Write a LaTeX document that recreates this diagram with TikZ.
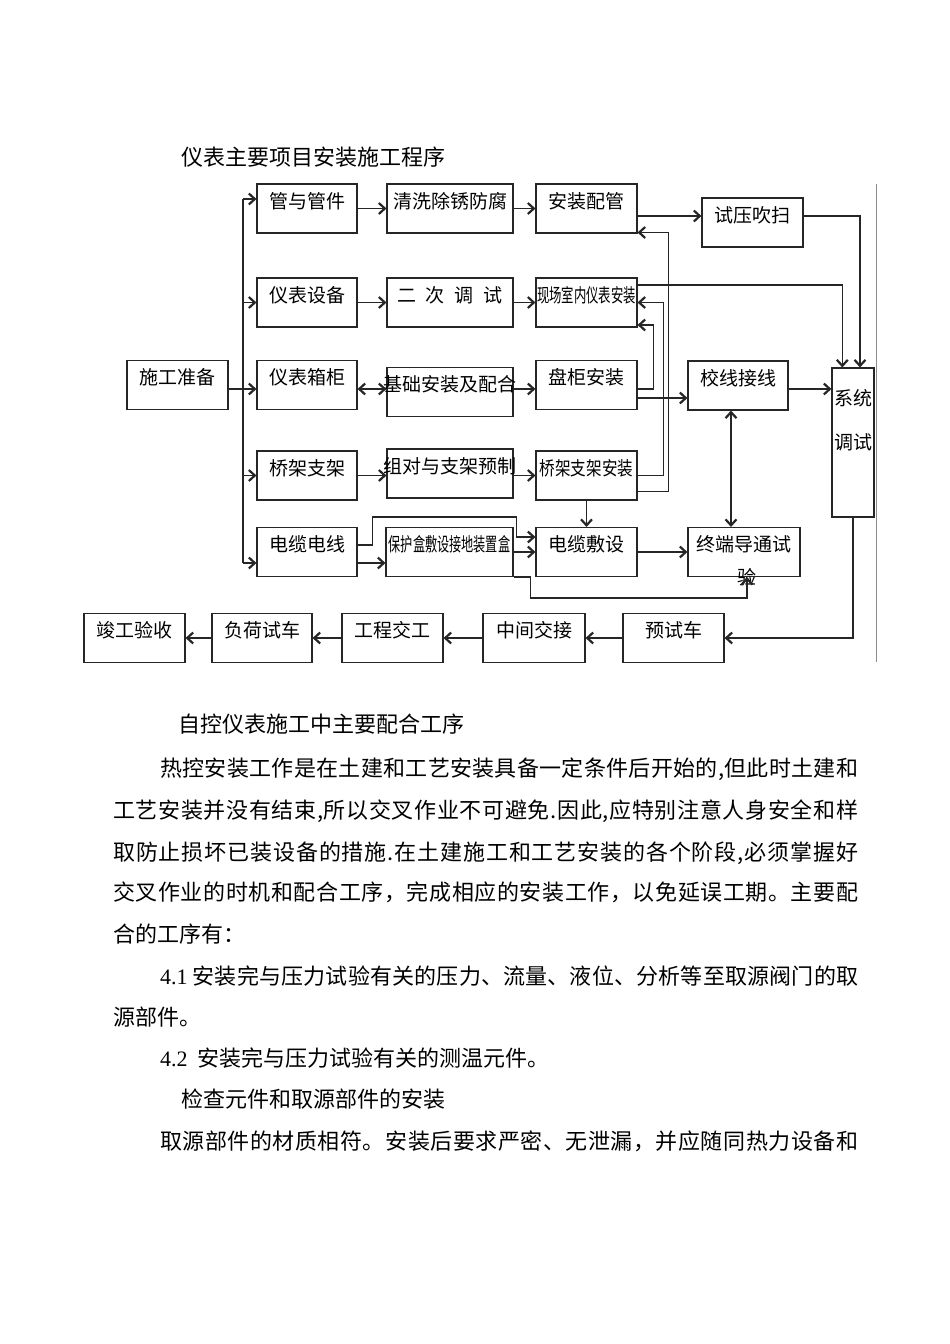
\documentclass[tikz,border=0pt]{standalone}
\usepackage{fontspec}
\setmainfont{Liberation Serif}
\newfontfamily\cjk{Noto Sans CJK SC}
\usetikzlibrary{arrows.meta}
% spread one line of text over a given width
\def\jlfirst#1{#1\jlrest}
\def\jlrest#1{\ifx\relax#1\else\hfil#1\expandafter\jlrest\fi}
\newcommand\jline[2]{\hbox to #1pt{\jlfirst#2\relax}}
\newcommand\wide[1]{\makebox[0pt]{#1}}
\begin{document}
\begin{tikzpicture}[x=1pt, y=-1pt, >={Straight Barb[length=6pt,width=11pt,line width=2.2pt]},
    box/.style={draw=black!85, line width=1.1pt, inner sep=0pt, minimum height=49pt,
                text height=24pt, text depth=25pt, font=\cjk\fontsize{19}{19}\selectfont},
    lbl/.style={inner sep=0pt, anchor=center, font=\cjk\fontsize{19}{19}\selectfont},
    arr/.style={->, line width=1.4pt, black!85},
    wire/.style={line width=1.4pt, black!85},
    txt/.style={inner sep=0pt, anchor=west, font=\cjk\fontsize{22}{22}\selectfont}]
\useasboundingbox (0,0) rectangle (950,1344);
\node[txt] (ttl) at (181,157) {仪表主要项目安装施工程序};
\node[box, minimum width=101pt] (sgzb) at (177.5,385) {施工准备}; % start
\node[box, minimum width=100pt] (gyg) at (307,208.5) {管与管件};
\node[box, minimum width=126pt] (qx) at (450,208.5) {清洗除锈防腐};
\node[box, minimum width=101pt] (azpg) at (586.5,208.5) {安装配管};
\node[box, minimum width=101pt] (sy) at (752.5,222.5) {试压吹扫};
\node[box, minimum width=100pt] (ybsb) at (307,302.5) {仪表设备};
\node[box, minimum width=126pt] (ecds) at (450,302.5) {二\hspace{10pt}次\hspace{10pt}调\hspace{10pt}试};
\node[box, minimum width=101pt] (xc) at (586.5,302.5) {\scalebox{0.65}[1]{现场室内仪表安装}};
\node[box, minimum width=100pt] (ybxg) at (307,385) {仪表箱柜};
\node[box, minimum width=126pt] (jc) at (450,392) {\wide{基础安装及配合}};
\node[box, minimum width=101pt] (pg) at (586.5,385) {盘柜安装};
\node[box, minimum width=100pt] (jx) at (738,385.5) {校线接线};
\node[box, minimum width=42pt, minimum height=149pt, text height=0pt, text depth=0pt,
      label={[lbl, yshift=-31pt]north:系统}, label={[lbl, yshift=-75pt]north:调试}] (xt) at (853,442.5) {};
\node[box, minimum width=100pt] (qj) at (307,475.5) {桥架支架};
\node[box, minimum width=126pt] (zd) at (450,473.5) {\wide{组对与支架预制}};
\node[box, minimum width=101pt] (qjaz) at (586.5,475.5) {\scalebox{0.82}[1]{桥架支架安装}};
\node[box, minimum width=100pt] (dl) at (307,552) {电缆电线};
\node[box, minimum width=127pt] (bh) at (449.5,552) {\scalebox{0.64}[1]{保护盒敷设接地装置盒}};
\node[box, minimum width=101pt] (dlfs) at (586.5,552) {电缆敷设};
\node[box, minimum width=112pt, label={[lbl, xshift=3pt]south:验}] (zdds) at (744,552) {终端导通试};
\node[box, minimum width=101pt] (ysc) at (673.5,638) {预试车};
\node[box, minimum width=102pt] (zjjj) at (534,638) {中间交接};
\node[box, minimum width=101pt] (gcjg) at (392.5,638) {工程交工};
\node[box, minimum width=100pt] (fhsc) at (262,638) {负荷试车};
\node[box, minimum width=101pt] (jgys) at (134.5,638) {竣工验收};
\draw[black!45, line width=0.8pt] (876,184) -- (876,662);
% trunk
\coordinate (t1) at (243,199);
\coordinate (t2) at (243,563);
\coordinate (r3) at ([yshift=-4pt]sgzb.east);
\draw[wire] (t1) -- (t2);
\draw[arr] (t1) -- (t1 -| gyg.west);
\draw[arr] (t1 |- ybsb) -- (ybsb.west);
\draw[arr] (r3) -- (r3 -| ybxg.west);
\draw[arr] (t1 |- qj) -- (qj.west);
\draw[arr] (t2) -- (t2 -| dl.west);
% rows
\draw[arr] (gyg) -- (qx);
\draw[arr] (qx) -- (azpg);
\draw[arr] ([yshift=-7.5pt]azpg.east) -- ([yshift=-7.5pt]azpg.east -| sy.west);
\draw[arr] (ybsb) -- (ecds);
\draw[arr] (ecds) -- (xc);
\draw[arr, <->] (r3 -| ybxg.east) -- (r3 -| jc.west);
\draw[arr] (r3 -| jc.east) -- (r3 -| pg.west);
\draw[arr] (qj.east) -- (qj.east -| zd.west);
\draw[arr] (qj.east -| zd.east) -- (qj.east -| qjaz.west);
\draw[arr] (t2 -| dl.east) -- (t2 -| bh.west);
\draw[arr] ([yshift=7pt]dl.east) -- ++(15,0) -- ++(0,-28) -- ++(144,0) |- ([yshift=15pt]dlfs.west);
\draw[arr] (bh.east) -- (bh.east -| dlfs.west);
\draw[arr] (bh.south east) -- ++(17,0) -- ++(0,21) -| ([xshift=3pt]zdds.south);
\draw[arr] (dlfs) -- (zdds);
\draw[arr] (qjaz) -- (dlfs);
\draw[arr, <->] ([xshift=-7pt]jx.south) -- ([xshift=-7pt]jx.south |- zdds.north);
\draw[arr] ([xshift=-2pt, yshift=-13pt]pg.east) -- ([yshift=-13pt]pg.east -| jx.west);
\draw[arr] ([yshift=-3.5pt]jx.east) -- ([yshift=-3.5pt]jx.east -| xt.west);
\draw[arr] ([yshift=6.5pt]sy.east) -| ([xshift=7pt]xt.north);
\draw[arr] ([yshift=17.5pt]xc.east) -| ([xshift=-10.7pt]xt.north);
% feedback
\draw[arr] ([yshift=-4pt]pg.east) -- ++(16,0) |- ([yshift=-22.5pt]xc.east);
\draw[arr] (qjaz.east) -- ++(26,0) |- (xc.east);
\draw[arr] ([yshift=-16pt]qjaz.east) -- ++(31,0) |- ([yshift=-24pt]azpg.east);
% bottom row
\draw[arr] (xt.south) |- (ysc.east);
\draw[arr] (ysc) -- (zjjj);
\draw[arr] (zjjj) -- (gcjg);
\draw[arr] (gcjg) -- (fhsc);
\draw[arr] (fhsc) -- (jgys);
% text below
\node[txt] (h1) at (178,724) {自控仪表施工中主要配合工序};
\node[txt] (p1) at (160,769) {\jline{698}{热控安装工作是在土建和工艺安装具备一定条件后开始的,但此时土建和}};
\node[txt] (p2) at (113,811) {\jline{745}{工艺安装并没有结束,所以交叉作业不可避免.因此,应特别注意人身安全和样}};
\node[txt] (p3) at (113,853) {\jline{745}{取防止损坏已装设备的措施.在土建施工和工艺安装的各个阶段,必须掌握好}};
\node[txt] (p4) at (113,892) {\jline{745}{交叉作业的时机和配合工序，完成相应的安装工作，以免延误工期。主要配}};
\node[txt] (p5) at (113,934) {合的工序有：};
\node[txt] (p6) at (160,976) {\jline{698}{{{\rmfamily 4.1}\ }安装完与压力试验有关的压力、流量、液位、分析等至取源阀门的取}};
\node[txt] (p7) at (113,1017) {源部件。};
\node[txt] (p8) at (160,1058) {{\rmfamily 4.2}\hspace{10pt}安装完与压力试验有关的测温元件。};
\node[txt] (h2) at (181,1099) {检查元件和取源部件的安装};
\node[txt] (p9) at (160,1141) {\jline{698}{取源部件的材质相符。安装后要求严密、无泄漏，并应随同热力设备和}};
\end{tikzpicture}
\end{document}
